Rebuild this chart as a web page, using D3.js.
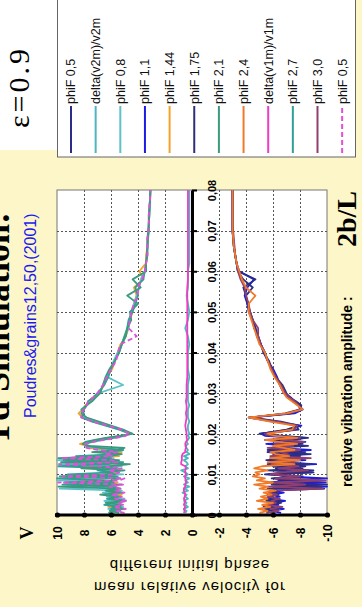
<!DOCTYPE html>
<html><head><meta charset="utf-8">
<script src="https://cdn.jsdelivr.net/npm/d3@7"></script>
<style>
html,body{margin:0;padding:0;background:#fcf6c8;}
svg{display:block;}
</style>
</head><body>
<svg id="chart" width="362" height="607"></svg>
<script>
// relative vibration amplitude 2b/L (shared sampling for every curve)
const amplitude = [
  0.0005,0.001,0.0015,0.002,0.0025,0.003,0.0035,0.004,0.0045,0.005,
  0.0055,0.006,0.0065,0.007,0.0075,0.008,0.0085,0.009,0.0095,0.010,
  0.0105,0.011,0.0115,0.012,0.0125,0.013,0.0135,0.014,0.0145,0.015,
  0.0155,0.016,0.0165,0.017,0.0175,0.018,0.0185,0.019,0.0195,0.020,
  0.021,0.022,0.023,0.024,0.025,0.026,0.027,0.028,0.029,0.030,
  0.032,0.034,0.036,0.038,0.040,0.042,0.044,0.046,0.048,0.050,
  0.052,0.054,0.056,0.058,0.060,0.062,0.064,0.066,0.068,0.070,
  0.072,0.074,0.076,0.078,0.080
];

// mean relative velocity v2m (upper branch)
const v2_phi08 = [
  5.8,5.3,6.2,5.1,6.0,5.4,6.5,5.0,6.3,5.5, 6.6,5.2,9.8,5.6,8.4,5.9,10.0,5.4,9.6,5.1,
  6.8,5.5,7.4,5.2,9.9,6.0,10.0,5.8,7.6,5.3, 6.9,5.1,7.2,7.9,8.0,7.7,7.0,6.2,5.3,4.5,
  5.2,6.2,7.1,8.0,8.1,8.0,7.8,7.6,7.3,6.9,
  5.1,6.3,6.0,5.8,5.5,5.2,5.0,4.7,4.6,4.5,4.3,4.1,3.9,3.8,3.5,3.4,3.35,3.3,3.3,3.2,3.2,3.15,3.1,3.1,3.1];
const v2_phi21 = [
  5.4,6.1,5.0,5.9,5.2,6.4,4.9,6.0,5.6,6.8, 5.1,6.2,5.5,9.9,5.2,9.4,6.0,5.3,9.8,5.7,
  6.4,5.0,8.2,6.1,4.6,9.7,5.4,9.9,6.2,5.2, 7.4,5.6,5.0,7.6,8.1,7.9,7.2,6.4,5.4,4.4,
  5.1,6.0,6.9,7.8,8.2,8.0,7.8,7.4,7.1,6.8,
  6.6,6.4,6.1,5.7,5.4,5.2,4.9,4.8,4.5,4.6,4.0,4.8,3.8,4.4,3.4,3.4,3.3,3.3,3.25,3.2,3.2,3.2,3.15,3.1,3.05];
const v2_phi27 = [
  6.2,5.6,6.0,5.3,6.5,5.8,5.1,6.3,5.4,6.1, 5.7,6.4,5.3,6.0,9.6,5.8,6.6,10.0,5.5,9.2,
  5.9,7.0,5.6,9.9,6.3,5.1,9.5,6.0,8.6,5.5, 6.2,5.1,6.8,7.8,7.9,7.4,6.6,5.8,5.0,4.6,
  5.4,6.4,7.4,8.2,8.0,8.2,7.8,7.7,7.3,7.0,
  6.5,6.2,6.0,5.7,5.4,5.2,5.0,4.8,4.7,4.4,4.2,4.0,4.2,3.6,3.5,3.4,3.35,3.3,3.3,3.25,3.2,3.15,3.15,3.1,3.1];
const v2_phi144 = [
  5.7,6.0,5.4,6.2,5.8,5.3,6.1,5.6,5.9,5.2, 6.3,5.5,6.4,5.6,7.2,5.5,9.0,6.3,5.8,6.6,
  5.4,6.0,5.8,8.8,6.1,7.0,5.6,8.2,5.4,6.6, 5.2,6.3,7.7,7.8,8.3,7.6,6.9,6.0,5.1,4.6,
  5.3,6.3,7.3,8.1,8.4,8.1,7.9,7.5,7.2,6.9,
  6.5,6.3,5.9,5.7,5.5,5.3,4.9,4.7,4.6,4.4,4.3,4.1,4.3,3.6,3.9,3.4,3.4,3.3,3.3,3.2,3.2,3.2,3.1,3.1,3.1];
const v2_phi05 = [
  5.0,5.6,4.9,5.8,5.1,5.5,4.8,5.7,5.2,6.0, 5.0,5.6,5.3,6.1,5.1,9.9,5.4,5.0,9.6,5.8,
  5.4,6.2,5.2,6.8,9.8,5.5,6.0,9.7,5.9,6.4, 5.5,6.9,7.8,8.0,7.9,7.3,6.5,5.6,4.9,4.6,
  5.2,6.2,7.3,8.2,8.2,8.0,7.8,7.7,7.3,7.0,
  6.6,6.3,6.0,5.6,5.5,5.3,4.1,4.7,4.6,4.5,4.3,4.0,4.0,3.7,3.5,3.4,3.3,3.3,3.3,3.25,3.2,3.2,3.15,3.1,3.1];

// mean relative velocity v1m (lower branch)
const v1_phi05 = [
  -6.1,-5.5,-6.4,-5.3,-6.2,-5.7,-6.6,-5.4,-6.0,-5.6, -6.3,-5.8,-9.8,-6.0,-10.0,-5.8,-7.2,-6.1,-8.2,-5.4,
  -7.0,-9.0,-6.2,-8.4,-5.6,-7.1,-5.5,-7.8,-6.2,-8.8, -5.6,-7.4,-5.9,-8.6,-6.0,-7.9,-5.4,-8.6,-6.8,-5.0,
  -7.9,-7.7,-6.2,-4.3,-7.3,-8.1,-8.0,-7.6,-7.3,-6.9,
  -6.6,-6.2,-5.9,-5.6,-5.3,-5.1,-4.9,-4.7,-4.5,-4.3,-4.1,-4.0,-3.8,-4.7,-3.4,-3.3,-3.2,-3.1,-3.05,-3.0,-3.0,-3.0,-3.0,-3.0,-3.0];
const v1_phi11 = [
  -6.6,-5.9,-6.8,-5.6,-6.4,-6.1,-6.9,-5.8,-6.5,-6.0, -6.8,-5.9,-6.3,-10.0,-6.2,-9.9,-6.4,-10.0,-7.0,-6.1,
  -8.9,-6.3,-7.5,-6.0,-9.2,-5.8,-8.4,-6.2,-7.0,-8.2, -5.6,-8.8,-6.1,-7.0,-5.5,-8.4,-6.0,-7.8,-5.4,-5.1,
  -7.2,-8.1,-6.0,-4.2,-7.6,-8.2,-7.9,-7.5,-7.1,-6.8,
  -6.5,-6.3,-6.0,-5.6,-5.4,-5.1,-4.9,-4.6,-4.5,-4.2,-4.1,-3.9,-4.1,-4.6,-3.5,-3.3,-3.2,-3.1,-3.05,-3.0,-3.0,-3.0,-3.0,-3.0,-3.0];
const v1_phi175 = [
  -5.8,-6.3,-5.4,-6.0,-5.6,-6.6,-5.5,-6.2,-5.7,-6.4, -5.9,-6.1,-5.6,-9.6,-5.9,-7.1,-9.5,-5.9,-7.6,-5.7,
  -9.0,-5.6,-8.2,-6.0,-8.8,-6.4,-7.4,-5.8,-8.0,-6.0, -8.4,-5.6,-7.0,-6.2,-8.2,-6.8,-7.6,-8.4,-6.4,-5.2,
  -7.0,-7.9,-6.6,-4.4,-6.9,-8.0,-8.1,-7.7,-7.2,-7.0,
  -6.7,-6.2,-5.9,-5.7,-5.3,-5.1,-4.8,-4.7,-4.5,-4.3,-4.1,-4.0,-4.5,-3.8,-3.4,-3.3,-3.2,-3.1,-3.05,-3.0,-3.0,-3.0,-3.0,-3.0,-3.0];
const v1_phi24 = [
  -5.0,-5.6,-4.9,-5.8,-5.2,-6.0,-4.8,-5.6,-5.1,-5.9, -5.3,-6.2,-5.0,-5.6,-4.6,-6.0,-4.8,-5.4,-4.5,-5.0,
  -4.7,-5.6,-4.6,-5.2,-7.6,-5.6,-8.0,-5.8,-7.2,-6.2, -5.8,-7.6,-6.8,-6.0,-7.8,-6.4,-5.4,-7.8,-6.2,-5.6,
  -7.4,-7.6,-5.8,-4.2,-7.0,-8.2,-7.8,-7.4,-7.0,-6.8,
  -6.5,-6.1,-5.8,-5.6,-5.4,-5.0,-4.8,-4.6,-4.4,-4.2,-4.2,-4.7,-4.0,-3.7,-3.5,-3.3,-3.2,-3.1,-3.05,-3.0,-3.0,-3.0,-3.0,-3.0,-3.0];
const v1_phi30 = [
  -5.5,-6.4,-5.8,-6.7,-5.5,-6.2,-5.9,-6.5,-5.6,-6.3, -5.7,-6.0,-9.7,-5.6,-8.4,-6.0,-9.9,-6.2,-8.0,-5.8,
  -6.6,-8.6,-6.4,-7.9,-5.9,-7.6,-6.4,-8.8,-5.8,-7.1, -6.6,-8.0,-5.6,-7.5,-6.1,-8.3,-6.6,-8.0,-5.9,-5.4,
  -7.6,-7.8,-6.3,-4.3,-7.2,-8.0,-7.9,-7.6,-7.2,-6.9,
  -6.6,-6.2,-5.9,-5.6,-5.4,-5.1,-4.9,-4.9,-4.5,-4.3,-4.2,-4.0,-3.9,-3.6,-3.4,-3.3,-3.2,-3.15,-3.1,-3.05,-3.0,-3.0,-3.0,-3.0,-3.0];

// spread of the mean velocities over the initial phases
const deltaV2 = [
  0.5,0.4,0.6,0.3,0.5,0.4,0.6,0.3,0.5,0.4, 0.7,0.3,0.6,0.2,0.6,0.3,0.5,0.2,0.6,0.3,
  0.5,0.8,0.3,0.5,0.3,0.4,0.6,0.3,0.6,0.2, 0.4,0.3,0.4,0.5,0.3,0.4,0.3,0.2,0.3,0.2,
  0.3,0.3,0.2,0.3,0.3,0.3,0.2,0.3,0.3,0.3,
  0.3,0.2,0.3,0.3,0.3,0.2,0.3,0.5,0.3,0.2,0.3,0.4,0.3,0.3,0.3,0.2,0.2,0.2,0.2,0.2,0.2,0.2,0.2,0.2,0.2];
const deltaV1 = [
  0.6,0.55,0.6,0.5,0.6,0.55,0.5,0.6,0.55,0.5, 0.55,0.6,0.6,0.5,0.5,0.45,0.45,0.5,0.5,0.45,
  0.5,0.5,0.45,0.5,0.8,0.8,0.75,0.75,0.75,0.7, 0.5,0.5,0.45,0.45,0.5,0.45,0.35,0.4,0.4,0.4,
  0.45,0.5,0.45,0.4,0.45,0.4,0.4,0.45,0.4,0.4,
  0.4,0.35,0.35,0.35,0.35,0.35,0.35,0.35,0.35,0.35,0.35,0.35,0.35,0.3,0.3,0.3,0.3,0.3,0.3,0.3,0.3,0.3,0.3,0.3,0.3];

// axes
const velocityTicks = [10,8,6,4,2,0,-2,-4,-6,-8,-10];
const amplitudeTicks = [0,0.01,0.02,0.03,0.04,0.05,0.06,0.07,0.08];

// legend
const legendLabels = ["phiF 0,5","delta(v2m)/v2m","phiF 0,8","phiF 1,1","phiF 1,44","phiF 1,75",
  "phiF 2,1","phiF 2,4","delta(v1m)/v1m","phiF 2,7","phiF 3,0","phiF 0,5"];
const legendColors = ["#2b2b8c","#4eb6c0","#5ec2ca","#1c1ce4","#f5a22a","#30307a",
  "#3b9a7e","#f07a28","#f03cc4","#2fa094","#8e3f6e","#e050d8"];

// curves drawn (back to front), with the legend entry they belong to
const curves = [
  {values: v1_phi11, key: 3}, {values: v1_phi175, key: 5}, {values: v1_phi05, key: 0},
  {values: v1_phi30, key: 10}, {values: v1_phi24, key: 7},
  {values: v2_phi144, key: 4}, {values: v2_phi08, key: 2}, {values: v2_phi27, key: 9},
  {values: v2_phi21, key: 6}, {values: v2_phi05, key: 11},
  {values: deltaV2, key: 1}, {values: deltaV1, key: 8}
];

const svg = d3.select("#chart");
const W = 362, H = 607;

// backdrop
svg.append("rect").attr("width", W).attr("height", H).attr("fill", "#fcf6c8");
svg.append("rect").attr("x", 0).attr("y", 0).attr("width", 57).attr("height", 150).attr("fill", "#ffffff");

// plot geometry: amplitude runs upward, velocity runs left (+) to right (-)
const plot = {left: 57, right: 327, top: 190, bottom: 515};
const y = d3.scaleLinear().domain([0, 0.08]).range([plot.bottom, plot.top]);
const x = d3.scaleLinear().domain([10, -10]).range([plot.left, plot.right]);

svg.append("rect")
  .attr("x", plot.left).attr("y", plot.top)
  .attr("width", plot.right - plot.left).attr("height", plot.bottom - plot.top)
  .attr("fill", "#ffffff").attr("stroke", "#777").attr("stroke-width", 1);

// dotted grid
const grid = svg.append("g").attr("stroke", "#555").attr("stroke-width", 1).attr("stroke-dasharray", "2,2");
grid.selectAll("line.v").data(velocityTicks.filter(d => d !== 10 && d !== -10 && d !== 0)).join("line")
  .attr("x1", d => Math.round(x(d)) + 0.5).attr("x2", d => Math.round(x(d)) + 0.5)
  .attr("y1", plot.top).attr("y2", plot.bottom);
grid.selectAll("line.h").data(amplitudeTicks.filter(d => d > 0 && d < 0.08)).join("line")
  .attr("x1", plot.left).attr("x2", plot.right)
  .attr("y1", d => Math.round(y(d)) + 0.5).attr("y2", d => Math.round(y(d)) + 0.5);

// curves
const line = d3.line().x(d => x(d[1])).y(d => y(d[0]));
svg.append("g").selectAll("path").data(curves).join("path")
  .attr("d", c => line(c.values.map((v, i) => [amplitude[i], v])))
  .attr("fill", "none")
  .attr("stroke", c => legendColors[c.key])
  .attr("stroke-width", 1.8)
  .attr("stroke-linejoin", "round")
  .attr("stroke-dasharray", c => c.key === 11 ? "5,3" : null);

// velocity axis along amplitude 0
const xAxis = svg.append("g").attr("transform", `translate(0,${plot.bottom})`)
  .call(d3.axisBottom(x).tickValues(velocityTicks).tickSize(0).tickSizeOuter(0).tickFormat(d => String(d)));
xAxis.select(".domain").attr("stroke", "#000").attr("stroke-width", 3)
  .attr("d", `M${plot.left - 2},0H${plot.right + 2}`);
xAxis.selectAll(".tick").append("circle").attr("r", 2.6).attr("fill", "#000");
xAxis.selectAll(".tick text")
  .attr("y", 0).attr("dy", "0.35em")
  .attr("transform", "translate(0,18) rotate(-90)")
  .attr("text-anchor", "middle")
  .attr("fill", "#000")
  .style("font", "bold 12px 'Liberation Sans', Arial, sans-serif");

// amplitude axis along velocity 0
const yAxis = svg.append("g").attr("transform", `translate(${x(0)},0)`)
  .call(d3.axisRight(y).tickValues(amplitudeTicks).tickSize(5).tickSizeOuter(0)
    .tickFormat(d => d === 0 ? "0" : d.toFixed(2).replace(".", ",")));
yAxis.select(".domain").attr("stroke", "#000").attr("stroke-width", 3);
yAxis.selectAll(".tick line").attr("stroke", "#000").attr("stroke-width", 2);
yAxis.selectAll(".tick text")
  .attr("x", 0).attr("dy", "0.35em")
  .attr("transform", "translate(20,0) rotate(-90)")
  .attr("text-anchor", "middle")
  .attr("fill", "#000")
  .style("font", "bold 11px 'Liberation Sans', Arial, sans-serif");

// legend box
svg.append("rect").attr("x", 57.5).attr("y", -1).attr("width", 298).attr("height", 158)
  .attr("fill", "#ffffff").attr("stroke", "#666").attr("stroke-width", 1);
const leg = svg.append("g").selectAll("g").data(legendLabels).join("g")
  .attr("transform", (d, i) => `translate(${71 + i * 24.65},0)`);
leg.append("line").attr("x1", 0).attr("x2", 0).attr("y1", 153).attr("y2", 106)
  .attr("stroke", (d, i) => legendColors[i]).attr("stroke-width", 2)
  .attr("stroke-dasharray", (d, i) => i === 11 ? "5,3" : null);
leg.append("text").text(d => d)
  .attr("transform", "translate(0,104) rotate(-90)")
  .attr("dy", "0.35em")
  .attr("fill", "#111")
  .style("font", "12.5px 'Liberation Sans', Arial, sans-serif");

// titles
const rot = (sel, tx, ty) => sel.attr("transform", `translate(${tx},${ty}) rotate(-90)`);
rot(svg.append("text").text("Td Simulation:"), 9, 445)
  .attr("fill", "#000")
  .style("font", "bold 36px 'Liberation Serif', 'Times New Roman', serif");
rot(svg.append("text").text("Poudres&grains12,50,(2001)"), 36, 418)
  .attr("fill", "#1a1af0")
  .style("font", "16px 'Liberation Sans', Arial, sans-serif");
rot(svg.append("text").text("ε=0.9"), 29, 128)
  .attr("fill", "#000")
  .style("letter-spacing", "3px")
  .style("font", "30px 'Liberation Serif', 'Times New Roman', serif");
rot(svg.append("text").text("V"), 33, 533)
  .attr("text-anchor", "middle")
  .attr("fill", "#000")
  .style("font", "bold 18px 'Liberation Serif', 'Times New Roman', serif");
rot(svg.append("text").text("relative vibration amplitude :"), 352, 487)
  .attr("fill", "#000")
  .style("font", "bold 14px 'Liberation Sans', Arial, sans-serif");
rot(svg.append("text").text("2b/L"), 356, 247)
  .attr("fill", "#000")
  .style("font", "bold 28px 'Liberation Serif', 'Times New Roman', serif");

// velocity axis title (mirrored lines)
const yTitle = [["different initial phase", 565], ["mean relative velocity for", 587]];
svg.append("g").selectAll("text").data(yTitle).join("text")
  .text(d => d[0])
  .attr("transform", d => `translate(190,${d[1]}) scale(1,-1)`)
  .attr("text-anchor", "middle")
  .attr("dy", "0.35em")
  .attr("fill", "#000")
  .style("letter-spacing", "1px")
  .style("font", "15px 'Liberation Sans', Arial, sans-serif");
</script>
</body></html>
